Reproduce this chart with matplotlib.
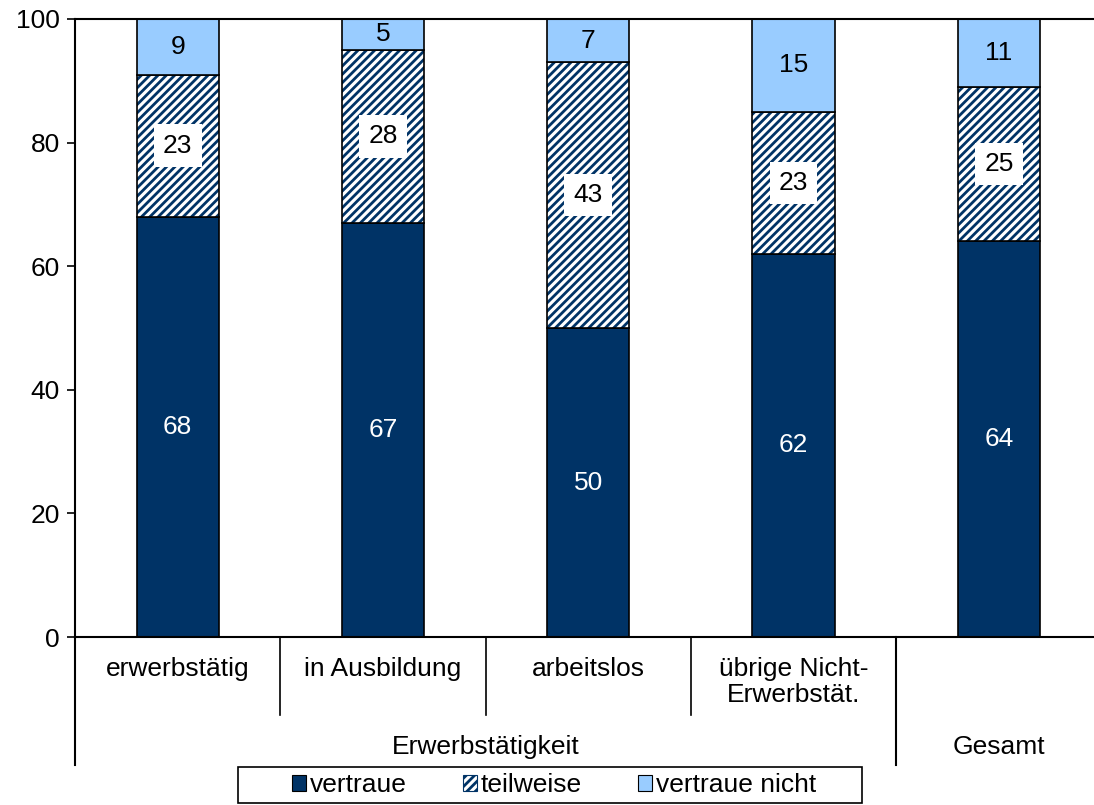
import matplotlib.pyplot as plt
from matplotlib.patches import Patch, Rectangle
import matplotlib.transforms as mtransforms

plt.rcParams["font.family"] = ["Liberation Sans", "DejaVu Sans"]
plt.rcParams["hatch.linewidth"] = 2.0

# data
categories = ["erwerbstätig", "in Ausbildung", "arbeitslos", "übrige Nicht-\nErwerbstät.", ""]
vertraue = [68, 67, 50, 62, 64]
teilweise = [23, 28, 43, 23, 25]
vertraue_nicht = [9, 5, 7, 15, 11]
series_names = ["vertraue", "teilweise", "vertraue nicht"]

navy = "#003366"
light = "#99CCFF"
fs = 19

W, H = 1094, 805
fig = plt.figure(figsize=(W / 100, H / 100), dpi=100)
ax = fig.add_axes([75 / W, 1 - 637 / H, 5 * 205.3 / W, 618 / H])

x = list(range(len(categories)))
bw = 0.4
ax.bar(x, vertraue, bw, color=navy, edgecolor="black", linewidth=1.2)
bottom2 = vertraue
ax.bar(x, teilweise, bw, bottom=bottom2, color="white", edgecolor=navy,
       hatch="////", linewidth=0)
ax.bar(x, teilweise, bw, bottom=bottom2, color="none", edgecolor="black", linewidth=1.2)
bottom3 = [a + b for a, b in zip(vertraue, teilweise)]
ax.bar(x, vertraue_nicht, bw, bottom=bottom3, color=light, edgecolor="black", linewidth=1.2)

# value labels
for i in x:
    ax.text(i, vertraue[i] / 2, str(vertraue[i]), ha="center", va="center",
            color="white", fontsize=fs)
    ax.text(i, bottom2[i] + teilweise[i] / 2, str(teilweise[i]), ha="center", va="center",
            color="black", fontsize=fs,
            bbox=dict(boxstyle="square,pad=0.35", fc="white", ec="none"))
    ax.text(i, bottom3[i] + vertraue_nicht[i] / 2, str(vertraue_nicht[i]), ha="center",
            va="center", color="black", fontsize=fs)

ax.set_xlim(-0.5, 4.5)
ax.set_ylim(0, 100)
ax.set_yticks([0, 20, 40, 60, 80, 100])
ax.tick_params(axis="y", labelsize=fs, length=6, width=1.2, pad=5)
ax.set_xticks([])
for s in ["left", "bottom", "top"]:
    ax.spines[s].set_linewidth(1.5)
ax.spines["right"].set_visible(False)

# category axis
trans = mtransforms.blended_transform_factory(ax.transData, ax.transAxes)
px = 1 / 618
for xs in [0.5, 1.5, 2.5]:
    ax.plot([xs, xs], [0, -78 * px], color="black", lw=1.2, transform=trans, clip_on=False)
for xs in [-0.5, 3.5]:
    ax.plot([xs, xs], [0, -128 * px], color="black", lw=1.5, transform=trans, clip_on=False)
for i, c in enumerate(categories):
    ax.text(i, -20 * px, c, ha="center", va="top", fontsize=fs, linespacing=1.1,
            transform=trans)
ax.text(1.5, -110 * px, "Erwerbstätigkeit", ha="center", va="center", fontsize=fs,
        transform=trans)
ax.text(4.0, -110 * px, "Gesamt", ha="center", va="center", fontsize=fs, transform=trans)

# legend
handles = [
    Patch(facecolor=navy, edgecolor="black", linewidth=0.8),
    Patch(facecolor="white", edgecolor=navy, hatch="////", linewidth=0.8),
    Patch(facecolor=light, edgecolor="black", linewidth=0.8),
]
leg = fig.legend(handles, series_names, loc="center", bbox_to_anchor=(554 / W, 1 - 785 / H),
                 ncol=3, fontsize=fs, frameon=False,
                 handlelength=0.55, handleheight=0.55, handletextpad=0.15,
                 columnspacing=2.1, borderpad=0.2, borderaxespad=0)
fig.patches.append(Rectangle((238 / W, 1 - 803 / H), 624 / W, 36 / H, transform=fig.transFigure,
                             fill=False, edgecolor="black", linewidth=1.2))

fig.savefig("out.png", dpi=100)
